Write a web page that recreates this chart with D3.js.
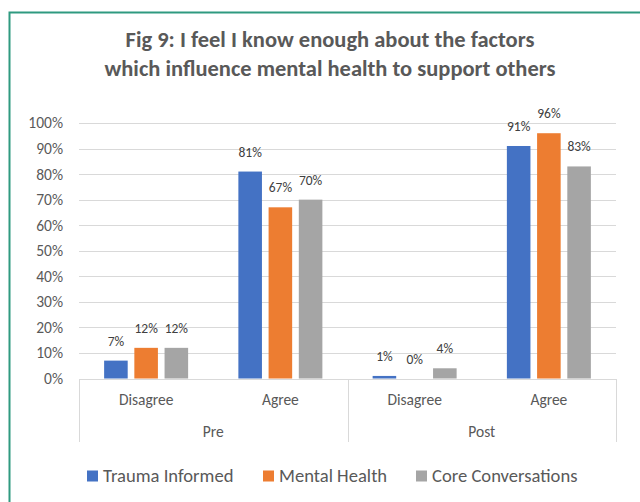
<!DOCTYPE html>
<html>
<head>
<meta charset="utf-8">
<script src="https://cdn.jsdelivr.net/npm/d3@7"></script>
<style>
  html, body { margin: 0; padding: 0; background: #fff; }
  svg { display: block; font-family: Carlito, Calibri, Lato, sans-serif; }
</style>
</head>
<body>
<svg id="chart" width="640" height="502"></svg>
<script>
// Survey responses, percent of respondents
const phases = ["Pre", "Post"];
const responses = ["Disagree", "Agree"];
const seriesNames = ["Trauma Informed", "Mental Health", "Core Conversations"];
const traumaInformed = [7, 81, 1, 91];
const mentalHealth = [12, 67, 0, 96];
const coreConversations = [12, 70, 4, 83];
const yTicks = [0, 10, 20, 30, 40, 50, 60, 70, 80, 90, 100];
const colors = ["#4472C4", "#ED7D31", "#A5A5A5"];

const seriesValues = [traumaInformed, mentalHealth, coreConversations];
const categories = [];
phases.forEach(p => responses.forEach(r => categories.push({ phase: p, response: r, key: p + "|" + r })));

const svg = d3.select("#chart");

// Outer frame
svg.append("rect")
  .attr("x", 9.5).attr("y", 12.5)
  .attr("width", 700).attr("height", 600)
  .attr("fill", "#fff")
  .attr("stroke", "#2F9A80").attr("stroke-width", 2);

// Title
const title = svg.append("text")
  .attr("x", 330).attr("text-anchor", "middle")
  .attr("fill", "#595959").attr("font-weight", "bold")
  .attr("font-size", 22.5);
title.append("tspan").attr("x", 330).attr("y", 47).text("Fig 9: I feel I know enough about the factors");
title.append("tspan").attr("x", 330).attr("y", 76).text("which influence mental health to support others");

const plotLeft = 79, plotRight = 616, plotTop = 123, plotBase = 378.5;

const x0 = d3.scaleBand().domain(categories.map(d => d.key)).range([plotLeft, plotRight]).padding(0);
const x1 = d3.scaleBand().domain(seriesNames).range([-42, 42]).paddingInner(0.22).paddingOuter(0);
const y = d3.scaleLinear().domain([0, 100]).range([plotBase, plotTop]);

// Gridlines
svg.append("g")
  .selectAll("line")
  .data(yTicks.filter(t => t > 0))
  .join("line")
  .attr("x1", plotLeft).attr("x2", plotRight)
  .attr("y1", d => Math.round(y(d)) + 0.5).attr("y2", d => Math.round(y(d)) + 0.5)
  .attr("stroke", "#D9D9D9").attr("stroke-width", 1);

// Y axis labels
const yAxis = d3.axisLeft(y).tickValues(yTicks).tickFormat(d => d + "%").tickSize(0).tickPadding(16);
svg.append("g")
  .attr("transform", `translate(${plotLeft},0)`)
  .call(yAxis)
  .call(g => g.select(".domain").remove())
  .call(g => g.selectAll("text")
    .attr("fill", "#595959").attr("font-size", 15.5)
    .attr("font-family", "Carlito, Calibri, Lato, sans-serif"));

// Bars
const barGroups = svg.append("g")
  .selectAll("g")
  .data(seriesNames.map((name, i) => ({ name, color: colors[i], values: seriesValues[i] })))
  .join("g")
  .attr("fill", d => d.color);

barGroups.selectAll("rect")
  .data(d => d.values.map((v, j) => ({ name: d.name, value: v, cat: categories[j].key })))
  .join("rect")
  .attr("x", d => x0(d.cat) + x0.bandwidth() / 2 + x1(d.name))
  .attr("width", x1.bandwidth())
  .attr("y", d => y(d.value))
  .attr("height", d => plotBase - y(d.value));

// Value labels
barGroups.selectAll("text")
  .data(d => d.values.map((v, j) => ({ name: d.name, value: v, cat: categories[j].key })))
  .join("text")
  .attr("x", d => x0(d.cat) + x0.bandwidth() / 2 + x1(d.name) + x1.bandwidth() / 2)
  .attr("y", d => y(d.value) - 15)
  .attr("text-anchor", "middle")
  .attr("fill", "#404040").attr("font-size", 13.5)
  .text(d => d.value + "%");

// Category axis: baseline and group dividers
const axisG = svg.append("g").attr("stroke", "#D9D9D9").attr("stroke-width", 1);
axisG.append("line").attr("x1", plotLeft).attr("x2", plotRight).attr("y1", 379.5).attr("y2", 379.5);
const dividers = [plotLeft, x0(categories[2].key), plotRight];
axisG.selectAll("line.div")
  .data(dividers)
  .join("line").attr("class", "div")
  .attr("x1", d => Math.round(d) + 0.5).attr("x2", d => Math.round(d) + 0.5)
  .attr("y1", 379).attr("y2", 442);

// Response labels
svg.append("g").selectAll("text")
  .data(categories)
  .join("text")
  .attr("x", d => x0(d.key) + x0.bandwidth() / 2)
  .attr("y", 405)
  .attr("text-anchor", "middle")
  .attr("fill", "#595959").attr("font-size", 15.5)
  .text(d => d.response);

// Phase labels
svg.append("g").selectAll("text")
  .data(phases)
  .join("text")
  .attr("x", (d, i) => (dividers[i] + dividers[i + 1]) / 2)
  .attr("y", 437)
  .attr("text-anchor", "middle")
  .attr("fill", "#595959").attr("font-size", 15.5)
  .text(d => d);

// Legend
const legendX = [87, 263, 416];
const legend = svg.append("g").selectAll("g")
  .data(seriesNames)
  .join("g")
  .attr("transform", (d, i) => `translate(${legendX[i]},0)`);
legend.append("rect")
  .attr("x", 0).attr("y", 470.5).attr("width", 11).attr("height", 11)
  .attr("fill", (d, i) => colors[i]);
legend.append("text")
  .attr("x", 16).attr("y", 482)
  .attr("fill", "#595959").attr("font-size", 18.6)
  .text(d => d);
</script>
</body>
</html>
